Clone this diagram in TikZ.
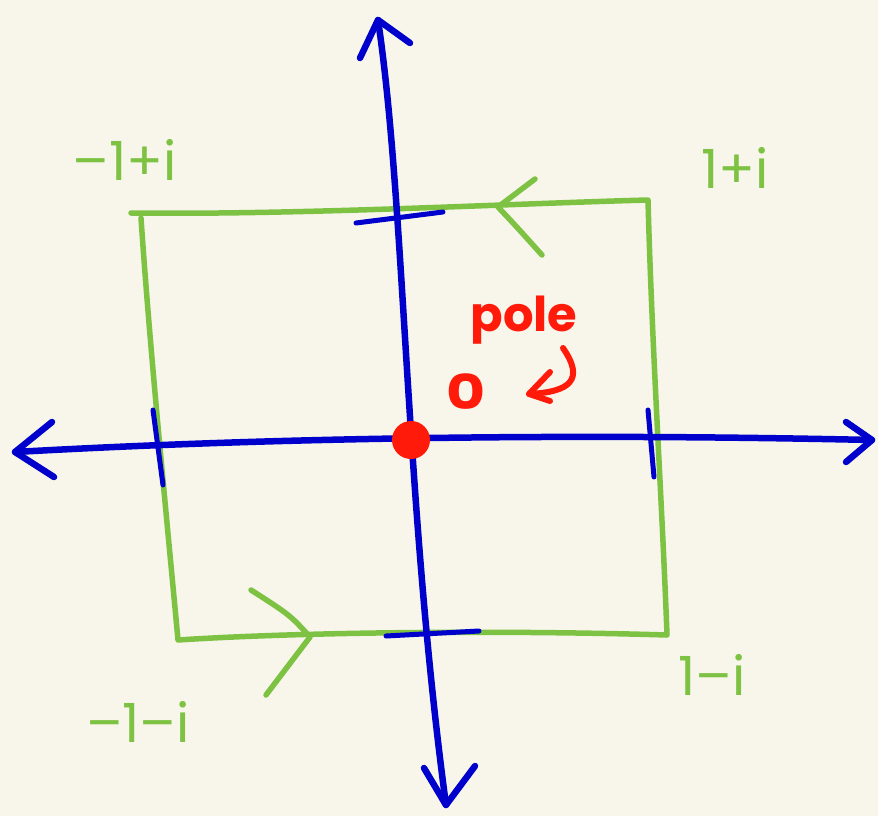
\documentclass[tikz,border=0pt]{standalone}
\usepackage{fontspec}
\setmainfont{Poppins}
\definecolor{bgc}{HTML}{F8F6EB}
\definecolor{grn}{HTML}{7DC242}
\definecolor{blu}{HTML}{0000CC}
\definecolor{rd}{HTML}{FF1A0A}
\begin{document}
\begin{tikzpicture}[x=1pt,y=-1pt,
  axis/.style={draw=blu,line width=6.5pt,line cap=round,line join=round},
  tick/.style={draw=blu,line width=5pt,line cap=round},
  contour/.style={draw=grn,line width=5.5pt,line cap=round,line join=round},
  chev/.style={draw=grn,line width=5.5pt,line cap=round,line join=round},
  lbl/.style={text=grn,font=\fontsize{54}{54}\selectfont,inner sep=0pt},
  redtxt/.style={text=rd,font=\fontsize{48}{48}\selectfont\bfseries,inner sep=0pt},
  redline/.style={draw=rd,line width=6pt,line cap=round,line join=round}]
\fill[bgc] (0,0) rectangle (878,816);
\useasboundingbox (0,0) rectangle (878,816);
% corner coordinates of the contour
\coordinate (tl) at (131,213);
\coordinate (tr) at (648,200);
\coordinate (br) at (667,635);
\coordinate (bl) at (178,640);
\coordinate (tlc) at (141,218);
% contour
\draw[contour] (tl) .. controls (300,215) and (500,204) .. (tr)
  .. controls (652,350) and (662,500) .. (br)
  .. controls (500,630) and (300,632) .. (bl)
  .. controls (165,500) and (150,350) .. (tlc);
% contour arrow chevrons
\coordinate (ta) at (498,207);
\coordinate (ta1) at (535,179);
\coordinate (ta2) at (542,255);
\draw[chev] (ta1) -- (ta) .. controls (515,225) .. (ta2);
\coordinate (ba) at (310,637);
\coordinate (ba1) at (251,590);
\coordinate (ba2) at (266,695);
\draw[chev] (ba1) .. controls (290,615) .. (ba) -- (ba2);
% horizontal axis
\coordinate (xl) at (15,452);
\coordinate (xr) at (872,440);
\draw[axis] (xl) .. controls (300,436) and (600,434) .. (xr);
\draw[axis] (52,422) -- (xl) -- (54,477);
\draw[axis] (846,422) -- (xr) -- (846,462);
% vertical axis
\coordinate (yt) at (378,20);
\coordinate (yb) at (446,805);
\draw[axis] (yt) .. controls (405,200) and (405,500) .. (yb);
\draw[axis] (360,58) -- (yt) -- (410,43);
\draw[axis] (424,768) -- (yb) -- (475,766);
% ticks
\coordinate (t1a) at (153,410); \coordinate (t1b) at (163,485);
\draw[tick] (t1a) -- (t1b);
\coordinate (t2a) at (648,410); \coordinate (t2b) at (654,477);
\draw[tick] (t2a) -- (t2b);
\coordinate (t3a) at (356,223); \coordinate (t3b) at (443,212);
\draw[tick] (t3a) -- (t3b);
\coordinate (t4a) at (386,636); \coordinate (t4b) at (479,631);
\draw[tick] (t4a) -- (t4b);
% pole
\node[circle,fill=rd,minimum size=38pt,inner sep=0pt] (pole) at (411,440) {};
\node[redtxt] (poletxt) at (524,320) {pole};
\node[redtxt,xscale=1.25] (zero) at (466,392) {0};
\coordinate (h1) at (563,348);
\coordinate (h2) at (529,394);
\draw[redline] (h1) .. controls (585,380) and (570,392) .. (h2);
\draw[redline] (550,372) -- (h2) -- (550,401);
% labels
\node[lbl] (lab1) at (125,160) {–1+i};
\node[lbl] (lab2) at (735,168) {1+i};
\node[lbl] (lab3) at (138,722) {–1–i};
\node[lbl] (lab4) at (712,675) {1–i};
\end{tikzpicture}
\end{document}
